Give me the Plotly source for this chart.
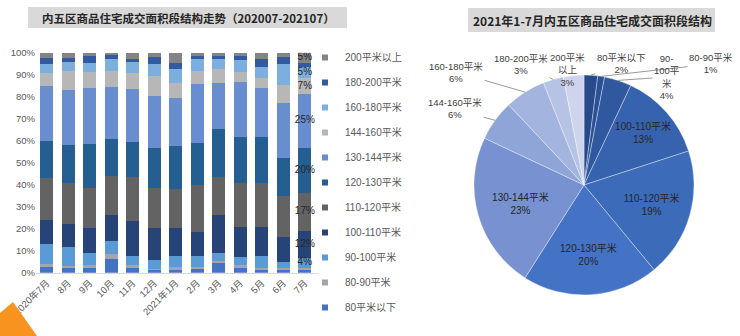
import math
import plotly.graph_objects as go

W, H = 740, 336

# ---------------- data ----------------
months = ["2020年7月", "8月", "9月", "10月", "11月", "12月", "2021年1月",
          "2月", "3月", "4月", "5月", "6月", "7月"]

series_names = ["80平米以下", "80-90平米", "90-100平米", "100-110平米", "110-120平米",
                "120-130平米", "130-144平米", "144-160平米", "160-180平米",
                "180-200平米", "200平米以上"]

s_80 = [2.7, 2.4, 2.7, 6.2, 2.1, 1.4, 1.5, 1.7, 4.2, 2.3, 1.7, 1.2, 1.2]
s_80_90 = [1.1, 0.6, 0.8, 2.3, 1.4, 0.3, 0.9, 1.0, 1.3, 1.2, 0.3, 1.1, 1.1]
s_90_100 = [9.2, 8.5, 5.3, 6.0, 4.1, 4.1, 5.2, 4.9, 3.3, 3.5, 5.6, 2.7, 4.3]
s_100_110 = [11.0, 10.5, 11.7, 11.7, 16.0, 14.7, 12.6, 11.0, 17.4, 13.9, 13.3, 11.4, 12.4]
s_110_120 = [19.0, 19.0, 18.1, 17.8, 20.0, 17.8, 17.8, 21.2, 17.4, 19.7, 20.0, 18.4, 17.3]
s_120_130 = [17.0, 17.0, 19.7, 17.0, 15.8, 18.2, 19.7, 19.2, 21.6, 21.2, 20.6, 17.2, 20.4]
s_130_144 = [25.0, 25.0, 25.7, 23.4, 23.9, 23.8, 21.7, 26.8, 21.2, 25.0, 22.6, 25.3, 24.6]
s_144_160 = [6.0, 8.5, 7.4, 7.4, 7.3, 9.1, 7.0, 5.9, 6.0, 4.6, 4.2, 8.0, 7.0]
s_160_180 = [4.0, 4.5, 4.1, 5.5, 5.0, 5.3, 6.0, 5.3, 4.6, 5.3, 5.0, 9.4, 5.3]
s_180_200 = [2.7, 1.4, 3.1, 1.5, 1.5, 3.2, 3.1, 1.5, 1.5, 1.8, 3.7, 3.5, 1.8]
s_200 = [2.3, 2.6, 1.4, 1.2, 2.9, 2.1, 4.5, 1.5, 1.5, 1.5, 3.0, 1.8, 4.6]

bar_series = [s_80, s_80_90, s_90_100, s_100_110, s_110_120, s_120_130,
              s_130_144, s_144_160, s_160_180, s_180_200, s_200]

bar_colors = ["#4472C4", "#A5A5A5", "#5B9BD5", "#264478", "#636363", "#255E91",
              "#698ED0", "#B7B7B7", "#7CAFDD", "#335AA1", "#848484"]

pie_labels = ["80平米以下", "80-90平米", "90-100平米", "100-110平米", "110-120平米",
              "120-130平米", "130-144平米", "144-160平米", "160-180平米",
              "180-200平米", "200平米以上"]
pie_values = [2, 1, 4, 13, 19, 20, 23, 6, 6, 3, 3]
pie_colors = ["#264A8A", "#2A5096", "#2F589F", "#3763AE", "#3C6BB9", "#4472C4",
              "#7891D0", "#8FA5D8", "#A3B4DE", "#B7C3E5", "#CDD4EC"]

title_left = "内五区商品住宅成交面积段结构走势（202007-202107）"
title_right = "2021年1-7月内五区商品住宅成交面积段结构"

FONT = "Liberation Sans, Arial, Noto Sans CJK SC, sans-serif"
TXT = "#404040"

fig = go.Figure()

# ---------------- stacked bars ----------------
for name, vals, col in zip(series_names, bar_series, bar_colors):
    fig.add_trace(go.Bar(x=months, y=vals, name=name, marker=dict(color=col, line=dict(width=0)),
                         showlegend=False, hoverinfo="x+y+name"))

# value labels on last bar
last = [s[-1] for s in bar_series]
mids, cum = [], 0.0
for v in last:
    mids.append(cum + v / 2)
    cum += v
lbl = [f"{v:.0f}%" if v >= 3.5 else "" for v in last]
fig.add_trace(go.Scatter(x=[months[-1]] * len(last), y=mids, text=lbl, mode="text",
                         textfont=dict(size=10, color="#262626", family=FONT),
                         showlegend=False, hoverinfo="skip"))

# legend entries (reversed order)
for name, col in reversed(list(zip(series_names, bar_colors))):
    fig.add_trace(go.Scatter(x=[None], y=[None], mode="markers", name=name,
                             marker=dict(symbol="square", size=6, color=col),
                             legendgroup=name, showlegend=True))

# ---------------- pie ----------------
PCX, PCY, PR = 584, 185, 110
inside_idx = {3, 4, 5, 6}
pie_text = [f"{l}<br>{v}%" if i in inside_idx else "" for i, (l, v) in enumerate(zip(pie_labels, pie_values))]
fig.add_trace(go.Pie(labels=pie_labels, values=pie_values, sort=False, direction="clockwise",
                     rotation=0, text=pie_text, textinfo="text", textposition="inside",
                     insidetextorientation="horizontal",
                     textfont=dict(size=10, color="#262626", family=FONT),
                     marker=dict(colors=pie_colors, line=dict(color="rgba(255,255,255,0.6)", width=0.6)),
                     domain=dict(x=[(PCX - PR) / W, (PCX + PR) / W],
                                 y=[1 - (PCY + PR) / H, 1 - (PCY - PR) / H]),
                     showlegend=False, hole=0, automargin=False))

# outside labels with leader lines
label_pos = {  # text centre in pixels, text
    8: (456, 72, "160-180平米<br>6%"),
    9: (521, 65, "180-200平米<br>3%"),
    10: (567, 70, "200平米<br>以上<br>3%"),
    0: (621, 64, "80平米以下<br>2%"),
    2: (667, 77, "90-<br>100平<br>米<br>4%"),
    1: (711, 64, "80-90平米<br>1%"),
    7: (455, 109, "144-160平米<br>6%"),
}
total = sum(pie_values)
cumv = 0
for i, v in enumerate(pie_values):
    mid = (cumv + v / 2) / total
    cumv += v
    if i not in label_pos:
        continue
    ang = 2 * math.pi * mid
    tx = PCX + PR * math.sin(ang)
    ty = PCY - PR * math.cos(ang)
    cx, cy, t = label_pos[i]
    if i == 10:
        fig.add_annotation(x=cx / W, y=1 - cy / H, xref="paper", yref="paper", text=t,
                           xanchor="center", yanchor="middle",
                           showarrow=False, font=dict(size=9.5, color=TXT, family=FONT))
    else:
        fig.add_annotation(x=tx / W, y=1 - ty / H, xref="paper", yref="paper", text=t,
                           showarrow=True, arrowhead=0, arrowwidth=0.8, arrowcolor="#7F7F7F",
                           ax=cx - tx, ay=cy - ty, standoff=0,
                           font=dict(size=9.5, color=TXT, family=FONT))

# ---------------- titles ----------------
fig.add_shape(type="rect", xref="paper", yref="paper", x0=28 / W, x1=347 / W,
              y0=1 - 28 / H, y1=1 - 7 / H, fillcolor="#D9D9D9", line=dict(width=0), layer="below")
fig.add_annotation(x=188 / W, y=1 - 17.5 / H, xref="paper", yref="paper", text=f"<b>{title_left}</b>",
                   xanchor="center", yanchor="middle",
                   showarrow=False, font=dict(size=11.5, color="#262626", family="Noto Sans CJK SC"))
fig.add_shape(type="rect", xref="paper", yref="paper", x0=468 / W, x1=715 / W,
              y0=1 - 32 / H, y1=1 - 8 / H, fillcolor="#D9D9D9", line=dict(width=0), layer="below")
fig.add_annotation(x=592 / W, y=1 - 20 / H, xref="paper", yref="paper", text=f"<b>{title_right}</b>",
                   xanchor="center", yanchor="middle",
                   showarrow=False, font=dict(size=12, color="#262626", family="Noto Sans CJK SC"))

# orange corner decoration
p = lambda x, y: f"{x / W},{1 - y / H}"
fig.add_shape(type="path", xref="paper", yref="paper",
              path=f"M {p(0, 313)} L {p(13, 302)} L {p(37, 336)} L {p(0, 336)} Z",
              fillcolor="#F7931E", line=dict(width=0))

fig.update_layout(
    width=W, height=H,
    margin=dict(l=0, r=0, t=0, b=0, autoexpand=False),
    paper_bgcolor="white", plot_bgcolor="white",
    barmode="stack", bargap=0.4,
    font=dict(family=FONT, size=10, color="#595959"),
    xaxis=dict(domain=[36 / W, 319 / W], tickangle=-45, showgrid=False, zeroline=False,
               showline=True, linecolor="#D9D9D9", linewidth=1, ticks="", automargin=False,
               tickfont=dict(size=9.5, color="#595959")),
    yaxis=dict(domain=[1 - 272.7 / H, 1 - 52.7 / H], range=[0, 100], dtick=10, ticksuffix="%",
               showgrid=False, zeroline=False, showline=False, automargin=False,
               tickfont=dict(size=9.5, color="#595959")),
    legend=dict(x=305 / W, y=1 - 43 / H, xanchor="left", yanchor="top",
                font=dict(size=10, color="#595959", family=FONT),
                tracegroupgap=6, itemwidth=30, bgcolor="rgba(0,0,0,0)"),
)

fig.write_html("out.html")
